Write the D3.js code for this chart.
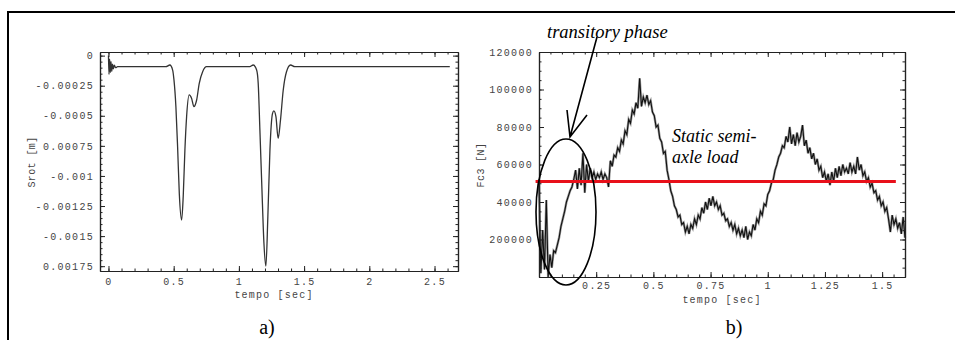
<!DOCTYPE html>
<html>
<head>
<meta charset="utf-8">
<script src="https://cdn.jsdelivr.net/npm/d3@7"></script>
<style>
  body { margin: 0; background: #fff; }
  svg { display: block; }
  .tick text { font-family: "Liberation Mono", "DejaVu Sans Mono", monospace; font-size: 10px; fill: #444; letter-spacing: 1.3px; }
  .tick line, .domain { stroke: #222; }
</style>
</head>
<body>
<div id="chart"></div>
<script>
// --- plot a) : Srot [m] vs tempo [sec]
const srotT = [0, 0.004, 0.009, 0.014, 0.019, 0.025, 0.031, 0.037, 0.045, 0.055, 0.07,
  0.44, 0.471, 0.492, 0.502, 0.517, 0.53, 0.543, 0.561, 0.573, 0.586, 0.599, 0.619, 0.637, 0.655, 0.676, 0.696, 0.722, 0.752,
  1.084, 1.11, 1.136, 1.148, 1.161, 1.176, 1.192, 1.207, 1.222, 1.238, 1.258, 1.268, 1.284, 1.301, 1.319, 1.34, 1.365, 1.396, 1.429,
  2.617];
const srotV = [0, -0.000155, -0.00003, -0.00014, -0.00005, -0.00013, -0.00007, -0.00011, -0.00008, -0.0001, -0.000092,
  -0.000092, -0.000078, -0.00012, -0.0002, -0.000425, -0.000757, -0.001145, -0.001366, -0.001173, -0.000785, -0.000508, -0.000327, -0.000355, -0.000424, -0.000369, -0.00023, -0.000134, -0.000092,
  -0.000092, -0.000078, -0.00012, -0.00023, -0.000618, -0.00109, -0.00156, -0.00175, -0.00134, -0.000785, -0.00048, -0.00046, -0.000508, -0.000688, -0.000535, -0.000286, -0.000134, -0.000078, -0.000092,
  -0.000092];
const srotXTicks = [0, 0.5, 1, 1.5, 2, 2.5];
const srotXLabels = ["0", "0.5", "1", "1.5", "2", "2.5"];
const srotYTicks = [0, -0.00025, -0.0005, -0.00075, -0.001, -0.00125, -0.0015, -0.00175];
const srotYLabels = ["0", "-0.00025", "-0.0005", "0.00075", "-0.001", "-0.00125", "-0.0015", "0.00175"];

// --- plot b) : Fc3 [N] vs tempo [sec], sampled every fcStep seconds
const fcStep = 0.008;
const fcV = [
  52000, 2000, 25000, 4000, 41000, 0, 12000, 5000, 14000, 13000,
  17000, 21000, 27000, 31000, 35000, 40000, 43000, 46000, 48000, 52000,
  57000, 47000, 58000, 49000, 66000, 45000, 60000, 51000, 58000, 53000,
  56000, 52000, 55000, 53000, 56000, 52000, 55000, 53000, 48000, 62000,
  59000, 65000, 64000, 69000, 67000, 73000, 71000, 78000, 76000, 84000,
  82000, 89000, 87000, 93000, 90000, 106000, 91000, 96000, 93000, 97000,
  92000, 94000, 88000, 86000, 80000, 81000, 74000, 72000, 66000, 67000,
  57000, 52000, 46000, 43000, 38000, 36000, 32000, 33000, 28000, 29000,
  24000, 27000, 23000, 28000, 26000, 31000, 28000, 33000, 31000, 37000,
  34000, 40000, 36000, 42000, 38000, 43000, 38000, 40000, 36000, 38000,
  33000, 34000, 30000, 31000, 27000, 29000, 25000, 28000, 23000, 26000,
  22000, 25000, 21000, 27000, 20000, 24000, 22000, 28000, 25000, 31000,
  29000, 35000, 33000, 39000, 38000, 44000, 46000, 50000, 52000, 57000,
  60000, 64000, 66000, 70000, 69000, 75000, 72000, 80000, 71000, 76000,
  70000, 77000, 72000, 75000, 81000, 70000, 73000, 66000, 69000, 63000,
  66000, 60000, 63000, 57000, 59000, 53000, 56000, 51000, 55000, 49000,
  56000, 51000, 58000, 53000, 59000, 54000, 60000, 56000, 58000, 55000,
  61000, 56000, 59000, 55000, 64000, 57000, 60000, 54000, 56000, 51000,
  53000, 48000, 50000, 45000, 46000, 41000, 43000, 38000, 40000, 35000,
  37000, 31000, 24000, 33000, 28000, 31000, 26000, 29000, 23000, 32000,
  21000
];
const fcStatic = 51000;
const fcXTicks = [0.25, 0.5, 0.75, 1, 1.25, 1.5];
const fcXLabels = ["0.25", "0.5", "0.75", "1", "1.25", "1.5"];
const fcYTicks = [20000, 40000, 60000, 80000, 100000, 120000];
const fcYLabels = ["200000", "40000", "60000", "80000", "100000", "120000"];

const W = 955, H = 340;
const svg = d3.select("#chart").append("svg").attr("width", W).attr("height", H);

// outer page frame
svg.append("path").attr("d", `M8,${H} V12 H${W}`).attr("fill", "none").attr("stroke", "#000").attr("stroke-width", 2);

function minorTicks(domain, step) {
  const out = [];
  const start = Math.ceil(domain[0] / step - 1e-9);
  const end = Math.floor(domain[1] / step + 1e-9);
  for (let i = start; i <= end; i++) out.push(+(i * step).toFixed(8));
  return out;
}

// Mathematica-like frame: ticks inward on all 4 sides, labels on left/bottom
function drawFrame(x, y, xt, xl, yt, yl, xMinor, yMinor, xPad) {
  const [x0, x1] = x.range();
  const [y0, y1] = y.range();
  const g = svg.append("g");
  const xd = x.domain(), yd = [Math.min(...y.domain()), Math.max(...y.domain())];
  const xm = minorTicks(xd, xMinor), ym = minorTicks(yd, yMinor);

  g.append("g").attr("transform", `translate(0,${y0})`)
    .call(d3.axisBottom(x).tickValues(xm).tickSize(-2.5).tickSizeOuter(0).tickFormat(""));
  g.append("g").attr("transform", `translate(0,${y1})`)
    .call(d3.axisTop(x).tickValues(xm).tickSize(-2.5).tickSizeOuter(0).tickFormat(""));
  g.append("g").attr("transform", `translate(${x0},0)`)
    .call(d3.axisLeft(y).tickValues(ym).tickSize(-2.5).tickSizeOuter(0).tickFormat(""));
  g.append("g").attr("transform", `translate(${x1},0)`)
    .call(d3.axisRight(y).tickValues(ym).tickSize(-2.5).tickSizeOuter(0).tickFormat(""));

  g.append("g").attr("transform", `translate(0,${y0})`)
    .call(d3.axisBottom(x).tickValues(xt).tickSize(-5).tickSizeOuter(0).tickPadding(xPad)
      .tickFormat((d, i) => xl[i]));
  g.append("g").attr("transform", `translate(0,${y1})`)
    .call(d3.axisTop(x).tickValues(xt).tickSize(-5).tickSizeOuter(0).tickFormat(""));
  g.append("g").attr("transform", `translate(${x0},0)`)
    .call(d3.axisLeft(y).tickValues(yt).tickSize(-5).tickSizeOuter(0).tickPadding(6)
      .tickFormat((d, i) => yl[i]));
  g.append("g").attr("transform", `translate(${x1},0)`)
    .call(d3.axisRight(y).tickValues(yt).tickSize(-5).tickSizeOuter(0).tickFormat(""));
  g.selectAll(".domain").attr("stroke-width", 1.2);
  return g;
}

function axisLabel(text, px, py, rotate) {
  svg.append("text")
    .attr("transform", `translate(${px},${py})` + (rotate ? " rotate(-90)" : ""))
    .attr("text-anchor", "middle")
    .style("font-family", '"Liberation Mono", monospace')
    .style("font-size", "10px")
    .style("letter-spacing", rotate ? "0.4px" : "1.2px")
    .attr("fill", "#444")
    .text(text);
}

// ---------- plot a)
const xa = d3.scaleLinear().domain([-0.065, 2.68]).range([100, 458]);
const ya = d3.scaleLinear().domain([-0.00179, 0.00003]).range([271, 52]);

svg.append("path")
  .datum(srotT.map((t, i) => [t, srotV[i]]))
  .attr("fill", "none").attr("stroke", "#333").attr("stroke-width", 1.3)
  .attr("d", d3.line().x(d => xa(d[0])).y(d => ya(d[1])).curve(d3.curveMonotoneX));

drawFrame(xa, ya, srotXTicks, srotXLabels, srotYTicks, srotYLabels, 0.1, 0.00005, 7);
axisLabel("tempo [sec]", 274, 298, false);
axisLabel("Srot [m]", 35, 162, true);

// ---------- plot b)
const xb = d3.scaleLinear().domain([0, 1.6]).range([539, 905]);
const yb = d3.scaleLinear().domain([0, 120000]).range([277, 52]);

svg.append("path")
  .datum(fcV.map((v, i) => [i * fcStep, v]))
  .attr("fill", "none").attr("stroke", "#999").attr("stroke-width", 2.4)
  .attr("d", d3.line().x(d => xb(d[0])).y(d => yb(d[1])));
svg.append("path")
  .datum(fcV.map((v, i) => [i * fcStep, v]))
  .attr("fill", "none").attr("stroke", "#111").attr("stroke-width", 1.1)
  .attr("d", d3.line().x(d => xb(d[0])).y(d => yb(d[1])));

svg.append("line")
  .attr("x1", xb(-0.015)).attr("x2", xb(1.56))
  .attr("y1", yb(fcStatic)).attr("y2", yb(fcStatic))
  .attr("stroke", "#e8101a").attr("stroke-width", 3);

drawFrame(xb, yb, fcXTicks, fcXLabels, fcYTicks, fcYLabels, 0.05, 5000, 5);
axisLabel("tempo [sec]", 722, 303, false);
axisLabel("Fc3 [N]", 484, 165, true);

// annotations
svg.append("ellipse").attr("cx", 566).attr("cy", 212).attr("rx", 30).attr("ry", 73)
  .attr("fill", "none").attr("stroke", "#000").attr("stroke-width", 1.6);
svg.append("path").attr("d", "M597,37 L570,137 M567,110 L570,137 L587,115")
  .attr("fill", "none").attr("stroke", "#000").attr("stroke-width", 1.6);

const serif = '"Liberation Serif", "Times New Roman", serif';
function note(text, px, py, size, italic) {
  svg.append("text").attr("x", px).attr("y", py)
    .style("font-family", serif).style("font-size", size + "px")
    .style("font-style", italic ? "italic" : "normal")
    .attr("fill", "#000").text(text);
}
note("transitory phase", 547, 38, 18.5, true);
note("Static semi-", 672, 142, 18, true);
note("axle load", 672, 163, 18, true);

svg.append("text").attr("x", 267).attr("y", 334).attr("text-anchor", "middle")
  .style("font-family", serif).style("font-size", "20px").text("a)");
svg.append("text").attr("x", 734).attr("y", 334).attr("text-anchor", "middle")
  .style("font-family", serif).style("font-size", "20px").text("b)");
</script>
</body>
</html>
